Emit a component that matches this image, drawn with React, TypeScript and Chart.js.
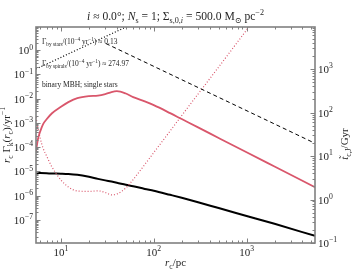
import React, { useEffect, useRef } from "react";
import { Chart, registerables } from "chart.js";
Chart.register(...registerables);

// ---- axis ranges / ticks ----
const X_MIN = 5.38;
const X_MAX = 5460;
const Y_MIN = 1.1e-8;
const Y_MAX = 9;
const Y2_MIN = 0.1;
const Y2_MAX = 9250;
const X_TICK_EXPS = [1, 2, 3];
const Y_TICK_EXPS = [-7, -6, -5, -4, -3, -2, -1, 0];
const Y2_TICK_EXPS = [-1, 0, 1, 2, 3];

// ---- series (r_c in pc) ----
const R_BLACK = [5.38, 6, 7, 8, 10, 12, 15, 20, 25, 30, 35, 40, 50, 60, 80, 100, 150, 200, 300, 500, 1000, 2000, 5460];
const V_BLACK = [8.49e-6, 8.41e-6, 8.26e-6, 8.1e-6, 7.94e-6, 7.72e-6, 7.15e-6, 5.9e-6, 4.87e-6, 4.22e-6, 3.76e-6, 3.38e-6, 2.79e-6, 2.42e-6, 1.87e-6, 1.57e-6, 1.07e-6, 8.1e-7, 5.31e-7, 3.04e-7, 1.44e-7, 6.81e-8, 2.16e-8];

const R_RED = [5.38, 5.65, 6, 6.4, 7, 8, 10, 12, 15, 20, 25, 30, 35, 40, 50, 60, 80, 100, 150, 200, 300, 500, 1000, 2000, 5460];
const V_RED = [6.81e-5, 2.15e-4, 4.64e-4, 8.66e-4, 1.4e-3, 2.49e-3, 4.64e-3, 7.15e-3, 1.05e-2, 1.27e-2, 1.33e-2, 1.54e-2, 1.87e-2, 2.02e-2, 1.62e-2, 1.15e-2, 7.64e-3, 5.36e-3, 2.51e-3, 1.43e-3, 6.49e-4, 2.37e-4, 6.07e-5, 1.57e-5, 2.22e-6];

const R_RED_DOT = [5.38, 5.65, 6, 6.4, 7, 8, 10, 12, 15, 20, 25, 30, 35, 40, 50, 60, 80, 100, 150, 200, 300, 500, 1000, 2000];
const V_RED_DOT = [78.8, 44.0, 24.6, 15.3, 10.0, 5.58, 2.81, 1.94, 1.57, 1.54, 1.58, 1.45, 1.28, 1.34, 1.84, 2.88, 6.38, 12.0, 37.6, 85.3, 266, 1111, 7890, 55200];

const R_DASH = [30.5, 5460];
const V_DASH = [3855, 19.6];

const R_DOT = [5.38, 55.4];
const V_DOT = [1000, 10200];

// ---- text ----
type Seg = { t: string; sub?: boolean; sup?: boolean; it?: boolean };
const TITLE: Seg[] = [
  { t: "i", it: true }, { t: " ≈ 0.0°; " }, { t: "N", it: true }, { t: "s", sub: true },
  { t: " = 1; Σ" }, { t: "s,0,", sub: true }, { t: "i", sub: true, it: true },
  { t: " = 500.0 M" }, { t: "⊙", sub: true }, { t: " pc" }, { t: "−2", sup: true },
];
const X_LABEL: Seg[] = [{ t: "r", it: true }, { t: "c", sub: true }, { t: "/pc" }];
const Y_LABEL: Seg[] = [
  { t: "r", it: true }, { t: "c", sub: true }, { t: " Γ" }, { t: "k", sub: true }, { t: "(" },
  { t: "r", it: true }, { t: "c", sub: true }, { t: ")/yr" }, { t: "−1", sup: true },
];
const Y2_LABEL: Seg[] = [{ t: "t̃", it: true }, { t: "c,J", sub: true }, { t: "/Gyr" }];
const NOTE1: Seg[] = [
  { t: "Γ" }, { t: "by stars", sub: true }, { t: "/(10" }, { t: "−4", sup: true },
  { t: " yr" }, { t: "−1", sup: true }, { t: ") ≈ 0.13" },
];
const NOTE2: Seg[] = [
  { t: "Γ" }, { t: "by spirals", sub: true }, { t: "/(10" }, { t: "−4", sup: true },
  { t: " yr" }, { t: "−1", sup: true }, { t: ") ≈ 274.97" },
];
const NOTE3: Seg[] = [{ t: "binary MBH; single stars" }];

const RED = "#d9566b";
const GRAY = "#808080";
const TXT = "#262626";
const FONT = '"Liberation Serif", "DejaVu Serif", serif';

function segFont(s: Seg, size: number) {
  const sz = s.sub || s.sup ? size * 0.7 : size;
  return `${s.it ? "italic " : ""}${sz}px ${FONT}`;
}
function richWidth(ctx: CanvasRenderingContext2D, segs: Seg[], size: number) {
  let w = 0;
  for (const s of segs) {
    ctx.font = segFont(s, size);
    w += ctx.measureText(s.t).width;
  }
  return w;
}
function drawRich(ctx: CanvasRenderingContext2D, segs: Seg[], x: number, y: number, size: number, align: string) {
  const w = richWidth(ctx, segs, size);
  let cx = align === "center" ? x - w / 2 : align === "right" ? x - w : x;
  ctx.textAlign = "left";
  ctx.textBaseline = "alphabetic";
  for (const s of segs) {
    ctx.font = segFont(s, size);
    const dy = s.sub ? size * 0.25 : s.sup ? -size * 0.42 : 0;
    ctx.fillText(s.t, cx, y + dy);
    cx += ctx.measureText(s.t).width;
  }
}
const expSegs = (e: number): Seg[] => [{ t: "10" }, { t: e < 0 ? "−" + -e : String(e), sup: true }];

const pts = (r: number[], v: number[]) => r.map((x, i) => ({ x, y: v[i] }));

const decorPlugin = {
  id: "decor",
  afterDatasetsDraw(chart: any) {
    const { ctx, chartArea: a, scales } = chart;
    const xs = scales.x, ys = scales.y, y2 = scales.y2;
    ctx.save();
    ctx.strokeStyle = GRAY;
    ctx.lineWidth = 1;
    const ln = (x1: number, y1: number, x2: number, y2_: number) => {
      ctx.beginPath();
      ctx.moveTo(x1, y1);
      ctx.lineTo(x2, y2_);
      ctx.stroke();
    };
    // x ticks (bottom + top)
    for (let e = 0; e <= 3; e++)
      for (let m = 1; m <= 9; m++) {
        const v = m * Math.pow(10, e);
        if (v < X_MIN || v > X_MAX) continue;
        const px = Math.round(xs.getPixelForValue(v)) + 0.5;
        const len = m === 1 ? 4.5 : 2.5;
        ln(px, a.bottom, px, a.bottom - len);
        ln(px, a.top, px, a.top + len);
      }
    // left y ticks
    for (let e = -9; e <= 1; e++)
      for (let m = 1; m <= 9; m++) {
        const v = m * Math.pow(10, e);
        if (v < Y_MIN || v > Y_MAX) continue;
        const py = Math.round(ys.getPixelForValue(v)) + 0.5;
        ln(a.left, py, a.left + (m === 1 ? 4.5 : 2.5), py);
      }
    // right y ticks
    for (let e = -2; e <= 4; e++)
      for (let m = 1; m <= 9; m++) {
        const v = m * Math.pow(10, e);
        if (v < Y2_MIN * 0.999 || v > Y2_MAX) continue;
        const py = Math.round(y2.getPixelForValue(v)) + 0.5;
        ln(a.right, py, a.right - (m === 1 ? 4.5 : 2.5), py);
      }
    // frame
    ctx.lineWidth = 1.6;
    ctx.strokeRect(a.left, a.top, a.right - a.left, a.bottom - a.top);

    ctx.fillStyle = TXT;
    // tick labels
    for (const e of X_TICK_EXPS) drawRich(ctx, expSegs(e), xs.getPixelForValue(Math.pow(10, e)), a.bottom + 13, 11, "center");
    for (const e of Y_TICK_EXPS) drawRich(ctx, expSegs(e), a.left - 3, ys.getPixelForValue(Math.pow(10, e)) + 4, 11, "right");
    for (const e of Y2_TICK_EXPS) drawRich(ctx, expSegs(e), a.right + 3, y2.getPixelForValue(Math.pow(10, e)) + 4, 11, "left");
    // axis labels
    const midX = (a.left + a.right) / 2;
    const midY = (a.top + a.bottom) / 2;
    drawRich(ctx, X_LABEL, midX, 266, 11, "center");
    drawRich(ctx, TITLE, midX, 20, 11.6, "center");
    ctx.save();
    ctx.translate(10, midY);
    ctx.rotate(-Math.PI / 2);
    drawRich(ctx, Y_LABEL, 0, 0, 11, "center");
    ctx.restore();
    ctx.save();
    ctx.translate(348, midY + 9);
    ctx.rotate(-Math.PI / 2);
    drawRich(ctx, Y2_LABEL, 0, 0, 11, "center");
    ctx.restore();
    // notes
    drawRich(ctx, NOTE1, a.left + 6, 44, 7.5, "left");
    drawRich(ctx, NOTE2, a.left + 6, 66, 7.5, "left");
    drawRich(ctx, NOTE3, a.left + 6, 87, 7.5, "left");
    ctx.restore();
  },
};

export default function App() {
  const ref = useRef<HTMLCanvasElement | null>(null);
  useEffect(() => {
    if (!ref.current) return;
    const chart = new Chart(ref.current, {
      type: "line",
      data: {
        datasets: [
          { data: pts(R_DOT, V_DOT), yAxisID: "y2", borderColor: "#000", borderWidth: 1.2, borderDash: [1, 2], pointRadius: 0 },
          { data: pts(R_DASH, V_DASH), yAxisID: "y2", borderColor: "#000", borderWidth: 1, borderDash: [4, 3], pointRadius: 0 },
          { data: pts(R_RED_DOT, V_RED_DOT), yAxisID: "y2", borderColor: RED, borderWidth: 1.2, borderDash: [1, 2], pointRadius: 0, cubicInterpolationMode: "monotone" },
          { data: pts(R_RED, V_RED), yAxisID: "y", borderColor: RED, borderWidth: 1.8, pointRadius: 0, cubicInterpolationMode: "monotone" },
          { data: pts(R_BLACK, V_BLACK), yAxisID: "y", borderColor: "#000", borderWidth: 2, pointRadius: 0, cubicInterpolationMode: "monotone" },
        ] as any,
      },
      options: {
        responsive: false,
        animation: false,
        events: [],
        layout: { padding: { left: 36, top: 27, right: 37, bottom: 27 } },
        plugins: { legend: { display: false }, title: { display: false }, tooltip: { enabled: false } },
        scales: {
          x: { type: "logarithmic", min: X_MIN, max: X_MAX, display: false },
          y: { type: "logarithmic", min: Y_MIN, max: Y_MAX, display: false },
          y2: { type: "logarithmic", min: Y2_MIN, max: Y2_MAX, display: false, position: "right" },
        },
      } as any,
      plugins: [decorPlugin],
    });
    return () => chart.destroy();
  }, []);
  return (
    <div style={{ position: "fixed", left: 0, top: 0, width: 352, height: 270, background: "#fff" }}>
      <canvas ref={ref} width={352} height={270} />
    </div>
  );
}
